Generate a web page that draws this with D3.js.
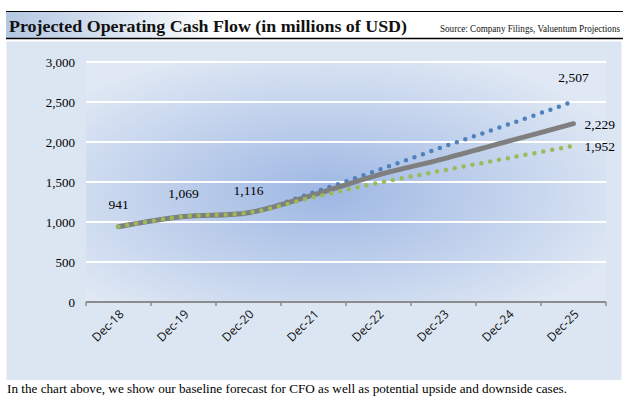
<!DOCTYPE html>
<html>
<head>
<meta charset="utf-8">
<title>Projected Operating Cash Flow</title>
<script src="https://d3js.org/d3.v7.min.js"></script>
<style>
  body { margin: 0; background: white; }
  svg { display: block; }
</style>
</head>
<body>
<script>
  // data
  const categories = ["Dec-18", "Dec-19", "Dec-20", "Dec-21", "Dec-22", "Dec-23", "Dec-24", "Dec-25"];
  const baseline = [941, 1069, 1116, 1340, 1590, 1790, 2010, 2229];
  const upside   = [941, 1069, 1116, 1370, 1650, 1940, 2220, 2507];
  const downside = [941, 1069, 1116, 1310, 1490, 1645, 1800, 1952];
  const yTicks = [0, 500, 1000, 1500, 2000, 2500, 3000];

  const width = 640, height = 408;
  const serif = "'Liberation Serif', 'Times New Roman', serif";

  const svg = d3.select("body").append("svg")
    .attr("width", width)
    .attr("height", height);

  const defs = svg.append("defs");
  const titleGrad = defs.append("linearGradient").attr("id", "titleGrad");
  titleGrad.append("stop").attr("offset", "0%").attr("stop-color", "#b3c7e2");
  titleGrad.append("stop").attr("offset", "35%").attr("stop-color", "#ffffff");
  titleGrad.append("stop").attr("offset", "100%").attr("stop-color", "#ffffff");

  const plotGrad = defs.append("radialGradient").attr("id", "plotGrad")
    .attr("cx", "46%").attr("cy", "55%").attr("r", "62%");
  plotGrad.append("stop").attr("offset", "0%").attr("stop-color", "#9eb7e3");
  plotGrad.append("stop").attr("offset", "100%").attr("stop-color", "#dfe8f4");

  // title bar
  svg.append("rect")
    .attr("x", 6).attr("y", 11).attr("width", 617).attr("height", 27)
    .attr("fill", "url(#titleGrad)");
  svg.append("line").attr("x1", 6).attr("x2", 623).attr("y1", 11.5).attr("y2", 11.5)
    .attr("stroke", "#000").attr("stroke-width", 1);
  svg.append("line").attr("x1", 6).attr("x2", 623).attr("y1", 38.5).attr("y2", 38.5)
    .attr("stroke", "#000").attr("stroke-width", 1.6);

  svg.append("text")
    .attr("x", 9).attr("y", 32)
    .attr("font-family", serif).attr("font-weight", "bold").attr("font-size", 17.5)
    .attr("fill", "#111")
    .attr("textLength", 398).attr("lengthAdjust", "spacingAndGlyphs")
    .text("Projected Operating Cash Flow (in millions of USD)");

  svg.append("text")
    .attr("x", 440).attr("y", 31.5)
    .attr("font-family", serif).attr("font-size", 9.5)
    .attr("fill", "#111")
    .attr("textLength", 180).attr("lengthAdjust", "spacingAndGlyphs")
    .text("Source: Company Filings, Valuentum Projections");

  // chart panel
  svg.append("rect")
    .attr("x", 6.5).attr("y", 41.5).attr("width", 615).attr("height", 338.5)
    .attr("fill", "#dce6f2");

  const margin = { top: 62, left: 86, right: 606, bottom: 302 };

  const x = d3.scaleBand()
    .domain(categories)
    .range([margin.left, margin.right]);

  const y = d3.scaleLinear()
    .domain([0, 3000])
    .range([margin.bottom, margin.top]);

  svg.append("rect")
    .attr("x", margin.left).attr("y", margin.top - 2)
    .attr("width", margin.right - margin.left).attr("height", margin.bottom - margin.top + 2)
    .attr("fill", "url(#plotGrad)");

  // gridlines
  svg.append("g")
    .selectAll("line")
    .data(yTicks.filter(d => d > 0))
    .join("line")
    .attr("x1", margin.left).attr("x2", margin.right)
    .attr("y1", d => y(d)).attr("y2", d => y(d))
    .attr("stroke", "#ffffff").attr("stroke-width", 2);

  // y axis labels
  const yAxis = svg.append("g")
    .attr("transform", `translate(${margin.left - 8},0)`)
    .call(d3.axisLeft(y).tickValues(yTicks).tickSize(0).tickPadding(3).tickFormat(d3.format(",")));
  yAxis.select(".domain").remove();
  yAxis.selectAll("text")
    .attr("font-family", serif).attr("font-size", 13).attr("fill", "#000");

  // x axis
  const xAxis = svg.append("g")
    .attr("transform", `translate(0,${margin.bottom})`);
  xAxis.append("line")
    .attr("x1", margin.left).attr("x2", margin.right)
    .attr("stroke", "#8c8c8c").attr("stroke-width", 2.2);
  xAxis.selectAll(".tk")
    .data(categories.map(c => x(c)).concat([margin.right]))
    .join("line")
    .attr("class", "tk")
    .attr("x1", d => d).attr("x2", d => d)
    .attr("y1", 0).attr("y2", 4)
    .attr("stroke", "#8c8c8c").attr("stroke-width", 1.5);
  xAxis.selectAll(".lbl")
    .data(categories)
    .join("text")
    .attr("class", "lbl")
    .attr("text-anchor", "end")
    .attr("transform", d => `translate(${x(d) + x.bandwidth() / 2 + 6},${13}) rotate(-45)`)
    .attr("font-family", "'Open Sans', 'DejaVu Sans', sans-serif")
    .attr("font-size", 12)
    .attr("fill", "#111")
    .text(d => d);

  // lines
  const line = d3.line()
    .x((d, i) => x(categories[i]) + x.bandwidth() / 2)
    .y(d => y(d))
    .curve(d3.curveCatmullRom.alpha(0.5));

  svg.append("path").datum(upside)
    .attr("d", line).attr("fill", "none")
    .attr("stroke", "#4f81bd").attr("stroke-width", 4.5)
    .attr("stroke-linecap", "round").attr("stroke-dasharray", "0 9");

  svg.append("path").datum(baseline)
    .attr("d", line).attr("fill", "none")
    .attr("stroke", "#7f7f7f").attr("stroke-width", 5)
    .attr("stroke-linecap", "round");

  svg.append("path").datum(downside)
    .attr("d", line).attr("fill", "none")
    .attr("stroke", "#9bbb59").attr("stroke-width", 4.5)
    .attr("stroke-linecap", "round").attr("stroke-dasharray", "0 9");

  // data labels
  const fmt = d3.format(",");
  const cx = i => x(categories[i]) + x.bandwidth() / 2;
  const labels = svg.append("g")
    .attr("font-family", serif).attr("font-size", 13.5).attr("fill", "#000");

  [0, 1, 2].forEach(i => {
    labels.append("text")
      .attr("x", cx(i)).attr("y", y(baseline[i]) - 18)
      .attr("text-anchor", "middle")
      .text(fmt(baseline[i]));
  });
  const last = categories.length - 1;
  labels.append("text")
    .attr("x", cx(last)).attr("y", y(upside[last]) - 19)
    .attr("text-anchor", "middle")
    .text(fmt(upside[last]));
  labels.append("text")
    .attr("x", cx(last) + 11).attr("y", y(baseline[last]) + 5)
    .text(fmt(baseline[last]));
  labels.append("text")
    .attr("x", cx(last) + 11).attr("y", y(downside[last]) + 5)
    .text(fmt(downside[last]));

  // caption
  svg.append("text")
    .attr("x", 7).attr("y", 393)
    .attr("font-family", serif).attr("font-size", 13).attr("fill", "#000")
    .attr("textLength", 560).attr("lengthAdjust", "spacingAndGlyphs")
    .text("In the chart above, we show our baseline forecast for CFO as well as potential upside and downside cases.");
</script>
</body>
</html>
